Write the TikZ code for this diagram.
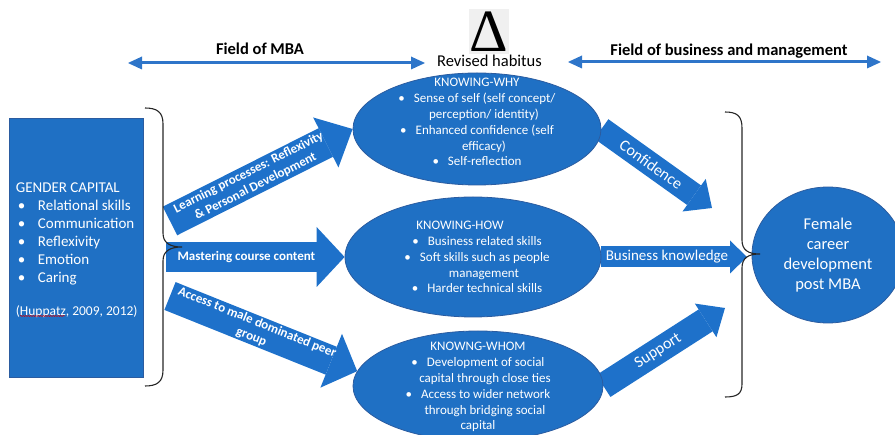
\documentclass[tikz,border=0pt]{standalone}
\usepackage{fontspec}
\setmainfont{Carlito}
\newfontfamily\greekfont{Liberation Serif}
\usetikzlibrary{shapes.geometric,arrows.meta,decorations.pathmorphing,backgrounds}

\definecolor{capblue}{RGB}{31,112,196}
\definecolor{rimblue}{RGB}{43,92,160}
\definecolor{arrblue}{RGB}{30,113,202}
\definecolor{fieldblue}{RGB}{46,117,201}

\newcommand{\fs}[2]{\fontsize{#1pt}{#2pt}\selectfont}
\newcommand{\bul}{\textbullet\hspace{9pt}}
\newcommand{\wrap}{\makebox[14pt]{}}
\newcommand{\gitem}[1]{\makebox[22pt][l]{\hspace{2pt}\textbullet}#1}

\begin{document}
\begin{tikzpicture}[
    x=1pt, y=-1pt,
    every node/.style = {inner sep=0pt},
    knowing/.style = {ellipse, fill=capblue, draw=rimblue, line width=0.8pt},
    knowtext/.style = {text=white, align=center, font=\fs{13}{15.9}},
    blockarr/.style n args = {3}{draw=arrblue, line width=#1,
      -{Triangle[width=#2, length=#3, line width=0pt]}},
    arrtext/.style = {text=white, sloped, pos=0.45, align=center},
    fieldarr/.style = {draw=fieldblue, line width=3pt,
      {Triangle[width=13pt, length=14pt, line width=0pt]}-{Triangle[width=13pt, length=14pt, line width=0pt]}},
    fieldtext/.style = {font=\fs{16.5}{20}\bfseries},
    bracket/.style = {draw=black!85, line width=1.1pt}
    ]
    \useasboundingbox (0,0) rectangle (895,435);

    % fields
    \coordinate (mbaL) at (128,63);
    \coordinate (mbaR) at (425,63);
    \draw[fieldarr] (mbaL) -- (mbaR);
    \node[fieldtext] (mba) at (260,49) {Field of MBA};
    \coordinate (bmL) at (568,62);
    \coordinate (bmR) at (881,62);
    \draw[fieldarr] (bmL) -- (bmR);
    \node[fieldtext] (bm) at (729,51) {Field of business and management};

    % habitus
    \node[fill=black!6, minimum width=40pt, minimum height=45pt,
      font=\greekfont\fs{60}{60}] (delta) at (488.5,32) {\char"0394};
    \node[font=\fs{16.5}{20}] (habitus) at (489.5,61) {Revised habitus};

    % gender capital
    \node[rectangle, fill=capblue, draw=rimblue, line width=0.6pt,
      minimum width=134pt, minimum height=259pt] (gender) at (76,247.5) {};
    \node[anchor=west, align=left, text=white, font=\fs{15}{18}] (gendertext)
      at ([xshift=7pt, yshift=-3pt]gender.west)
      {GENDER CAPITAL\\
       \gitem{Relational skills}\\
       \gitem{Communication}\\
       \gitem{Reflexivity}\\
       \gitem{Emotion}\\
       \gitem{Caring}\\[15pt]
       {\fs{13.5}{18}(Huppatz, 2009, 2012)}};
    \draw[red!85!black, line width=0.5pt, decorate,
      decoration={snake, amplitude=0.6pt, segment length=2.5pt}] (20,316) -- (65,316);

    % knowing
    \node[knowing, minimum width=248pt, minimum height=112pt] (why) at (477,129) {};
    \node[knowing, minimum width=256pt, minimum height=120pt] (how) at (473,257) {};
    \node[knowing, minimum width=250pt, minimum height=110pt] (whom) at (478,386) {};
    \node[knowtext] (whytext) at (477,122)
      {KNOWING-WHY\\ \bul Sense of self (self concept/\\ \wrap perception/ identity)\\
       \bul Enhanced confidence (self\\ \wrap efficacy)\\ \bul Self-reflection};
    \node[knowtext] (howtext) at (477,257)
      {KNOWING-HOW\makebox[34pt]{}\\ \bul Business related skills\\
       \bul Soft skills such as people\\ \wrap management\\ \bul Harder technical skills};
    \node[knowtext] (whomtext) at (478,387)
      {KNOWNG-WHOM\\ \bul Development of social\\ \wrap capital through close ties\\
       \bul Access to wider network\\ \wrap through bridging social\\ capital};
    \node[knowing, text=white, align=center, font=\fs{16.5}{20},
      minimum width=152pt, minimum height=136pt] (career) at (828,255)
      {Female\\ career\\ development\\ post MBA};

    % braces
    \draw[bracket] (145,108) .. controls (157,108) and (163,112) .. (163,124)
      -- (163,233) .. controls (163,243) and (170,247) .. (182,247)
      .. controls (170,247) and (163,251) .. (163,261)
      -- (163,370) .. controls (163,382) and (157,386) .. (145,386);
    \draw[bracket] (725,112) .. controls (737,112) and (742,116) .. (742,128)
      -- (742,240) .. controls (742,250) and (748,254) .. (760,254)
      .. controls (748,254) and (742,258) .. (742,268)
      -- (742,384) .. controls (742,394) and (737,397) .. (725,397);

    % block arrows
    \begin{scope}[on background layer]
      \coordinate (learn) at (170,221);
      \coordinate (master) at (166,257);
      \coordinate (access) at (170,296);
      \coordinate (conftip) at (712,208);
      \coordinate (busitip) at (747,257);
      \coordinate (suptip) at (725,308);
      \draw[blockarr={32pt}{56pt}{30pt}] (learn) -- (why.west)
        node[arrtext, font=\fs{13}{15.5}\bfseries] (learntext)
        {Learning processes: Reflexivity\\ \& Personal Development};
      \draw[blockarr={30pt}{60pt}{28pt}] (master) -- (how.west)
        node[arrtext, font=\fs{13}{15.5}\bfseries] (mastertext) {Mastering course content};
      \draw[blockarr={30pt}{58pt}{28pt}] (access) -- (whom.173)
        node[arrtext, font=\fs{13}{15.5}\bfseries] (accesstext)
        {Access to male dominated peer\\ group};
      \draw[blockarr={24pt}{40pt}{22pt}] (why.east) -- (conftip)
        node[arrtext, font=\fs{16}{18}] (conftext) {Confidence};
      \draw[blockarr={21pt}{33pt}{17pt}] (how.east) -- (busitip)
        node[arrtext, font=\fs{15}{18}] (busitext) {Business knowledge};
      \draw[blockarr={26pt}{40pt}{23pt}] (whom.east) -- (suptip)
        node[arrtext, font=\fs{16}{18}] (suptext) {Support};
    \end{scope}
  \end{tikzpicture}
\end{document}
